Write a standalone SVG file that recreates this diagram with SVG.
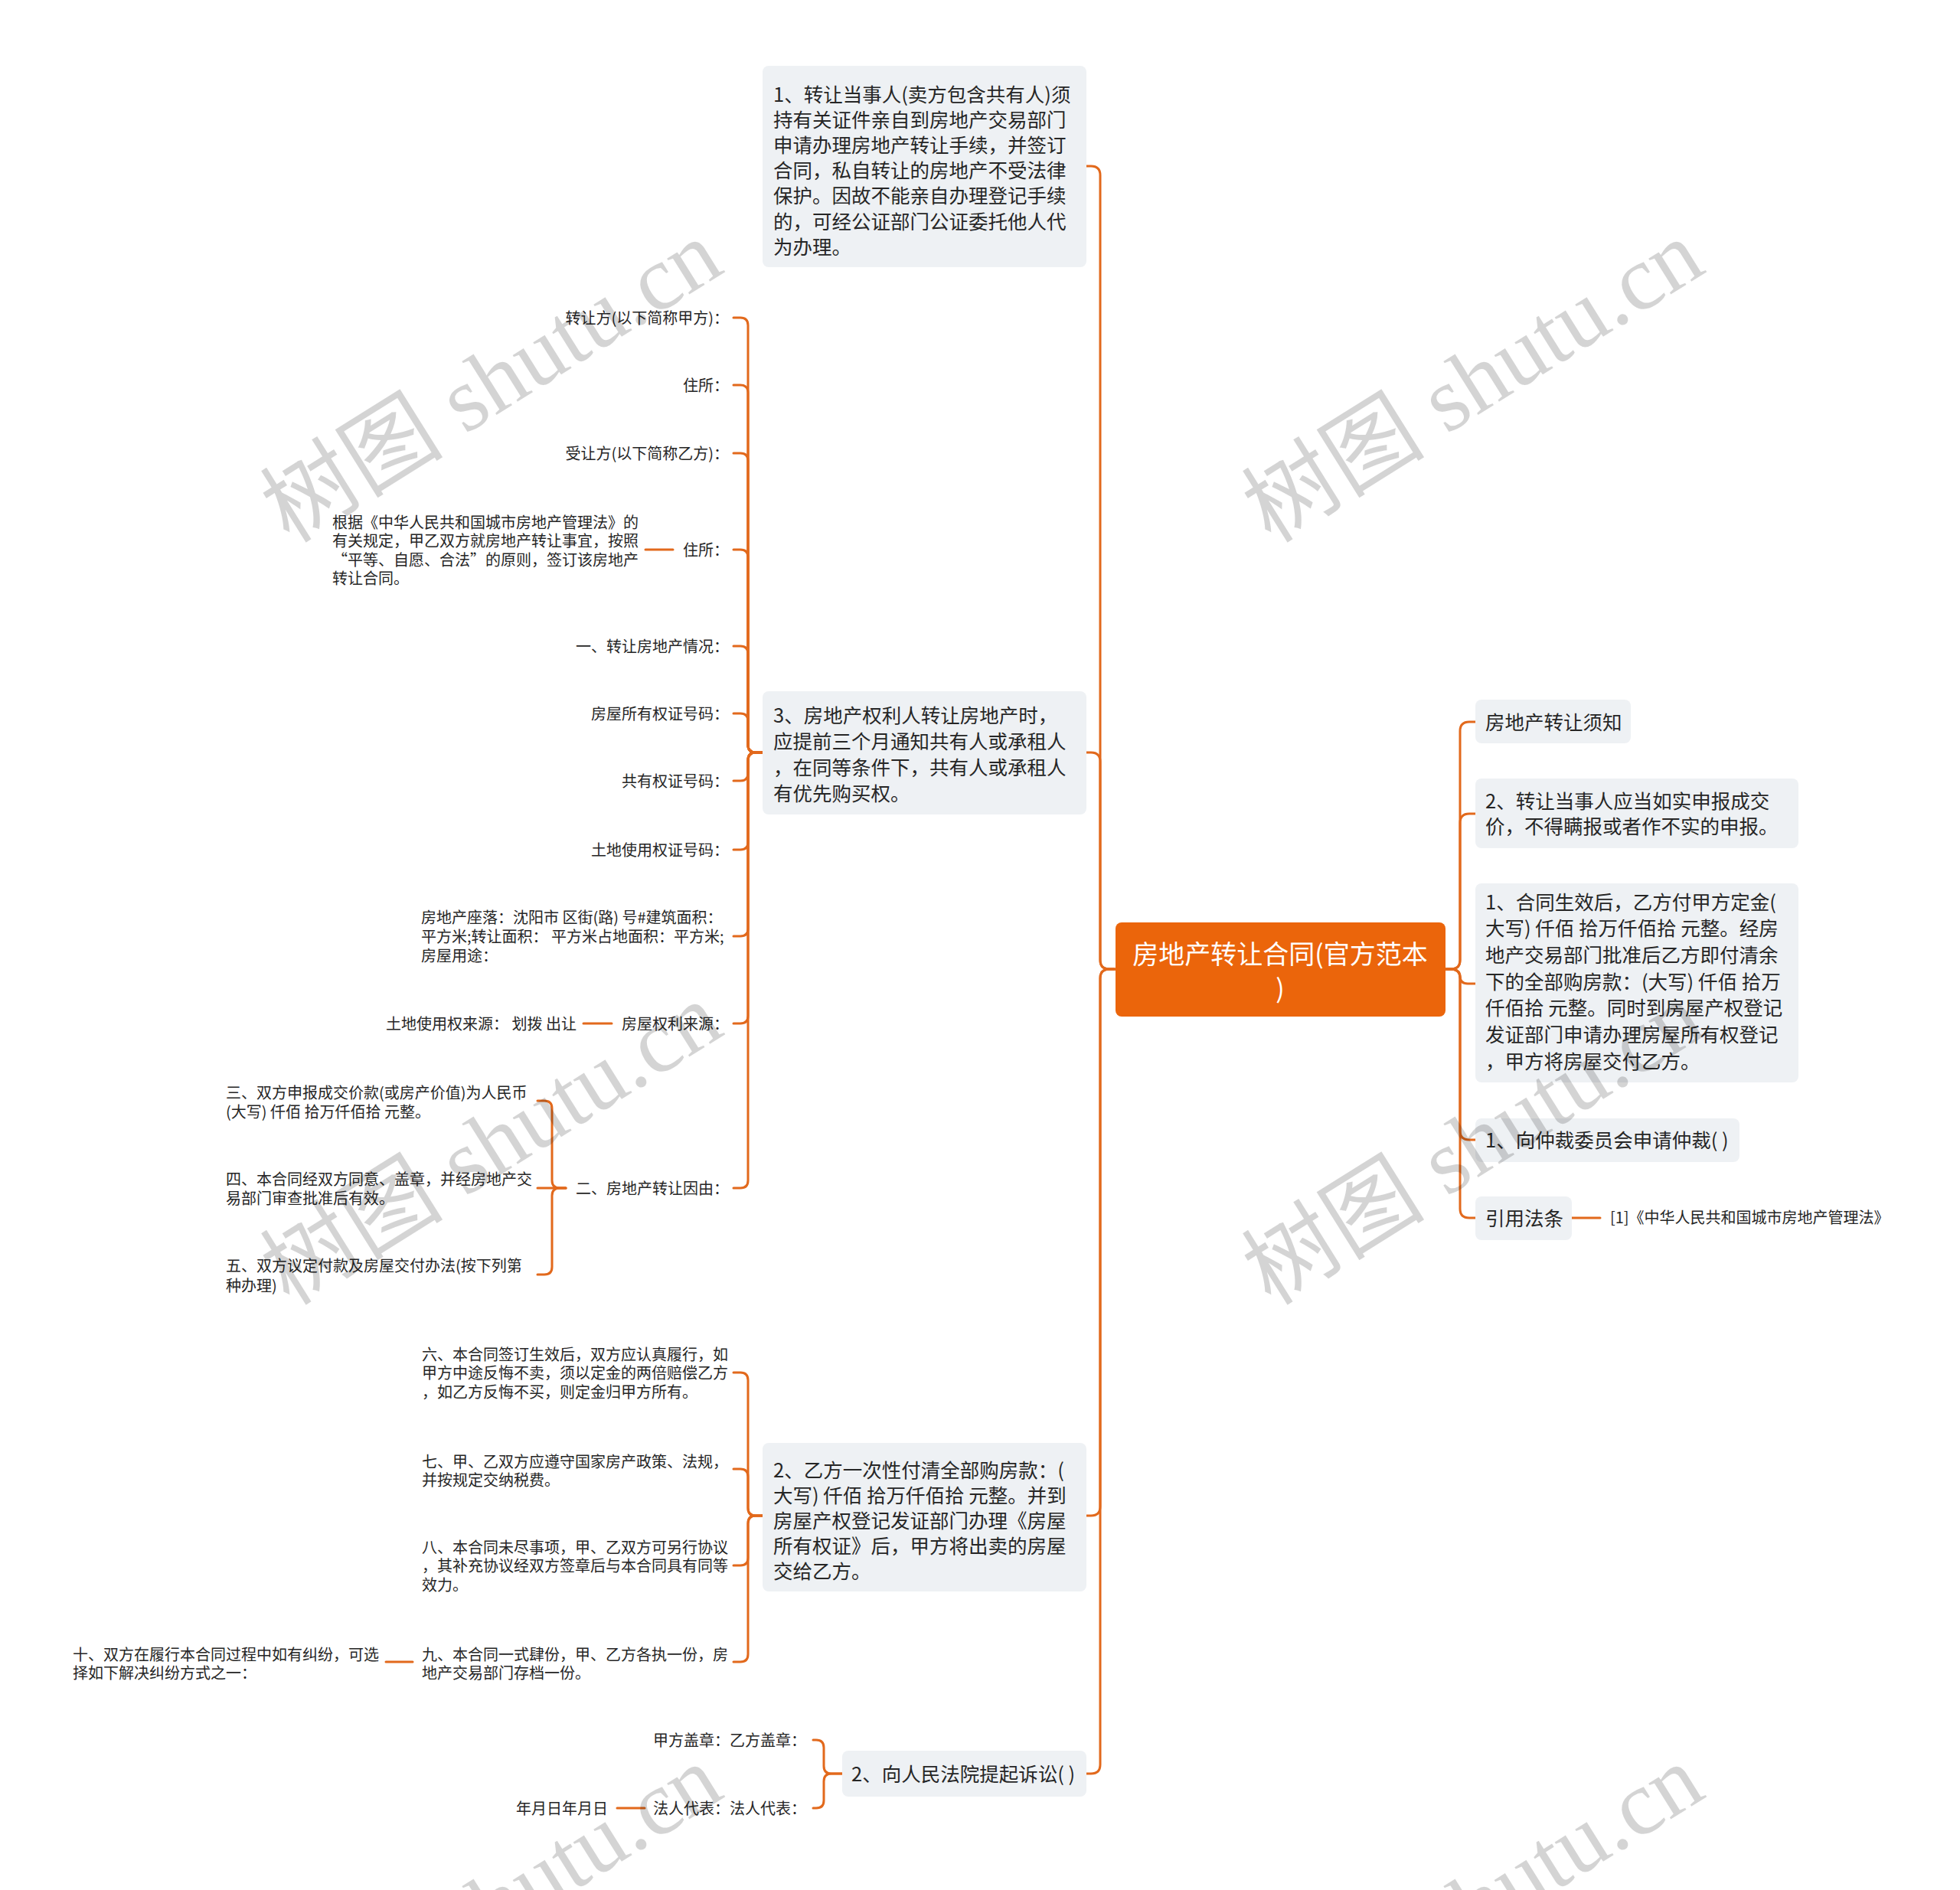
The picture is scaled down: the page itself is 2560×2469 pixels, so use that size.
<svg xmlns="http://www.w3.org/2000/svg" width="2560" height="2469" viewBox="0 0 2560 2469">
<style>
.ln{fill:none;stroke:#E2691C;stroke-width:3;stroke-linecap:round}
.box{fill:#EEF1F4}
.t{font-family:"Noto Sans CJK SC","Noto Sans",sans-serif;fill:#262626}
.n{font-size:25.5px}
.s{font-size:20px}
.e{text-anchor:end}
.root{font-family:"Noto Sans CJK SC","Noto Sans",sans-serif;font-size:34px;fill:#ffffff;text-anchor:middle}
.wm{font-family:"Liberation Serif","Noto Sans CJK SC",serif;font-size:120px;fill:#000;fill-opacity:0.17}
</style>
<rect x="0" y="0" width="2560" height="2469" fill="#ffffff"/>
<g id="connectors">
<path class="ln" d="M1456 1266 H1449 Q1437 1266 1437 1254 V229 Q1437 217 1425 217 H1419"/>
<path class="ln" d="M1456 1266 H1449 Q1437 1266 1437 1254 V995 Q1437 983 1425 983 H1419"/>
<path class="ln" d="M1456 1266 H1449 Q1437 1266 1437 1278 V1968 Q1437 1980 1425 1980 H1419"/>
<path class="ln" d="M1456 1266 H1449 Q1437 1266 1437 1278 V2305 Q1437 2317 1425 2317 H1419"/>
<path class="ln" d="M1888 1266 H1895 Q1907 1266 1907 1254 V955 Q1907 943 1919 943 H1927"/>
<path class="ln" d="M1888 1266 H1895 Q1907 1266 1907 1254 V1075 Q1907 1063 1919 1063 H1927"/>
<path class="ln" d="M1888 1266 H1895 Q1907 1266 1907 1276 V1275 Q1907 1285 1917 1285 H1927"/>
<path class="ln" d="M1888 1266 H1895 Q1907 1266 1907 1278 V1477 Q1907 1489 1919 1489 H1927"/>
<path class="ln" d="M1888 1266 H1895 Q1907 1266 1907 1278 V1579 Q1907 1591 1919 1591 H1927"/>
<path class="ln" d="M996 983 H987 Q977 983 977 973 V425 Q977 415 967 415 H958"/>
<path class="ln" d="M996 983 H987 Q977 983 977 973 V513 Q977 503 967 503 H958"/>
<path class="ln" d="M996 983 H987 Q977 983 977 973 V602 Q977 592 967 592 H958"/>
<path class="ln" d="M996 983 H987 Q977 983 977 973 V728 Q977 718 967 718 H958"/>
<path class="ln" d="M996 983 H987 Q977 983 977 973 V854 Q977 844 967 844 H958"/>
<path class="ln" d="M996 983 H987 Q977 983 977 973 V942 Q977 932 967 932 H958"/>
<path class="ln" d="M996 983 H987 Q977 983 977 993 V1010 Q977 1020 967 1020 H958"/>
<path class="ln" d="M996 983 H987 Q977 983 977 993 V1100 Q977 1110 967 1110 H958"/>
<path class="ln" d="M996 983 H987 Q977 983 977 993 V1213 Q977 1223 967 1223 H958"/>
<path class="ln" d="M996 983 H987 Q977 983 977 993 V1327 Q977 1337 967 1337 H958"/>
<path class="ln" d="M996 983 H987 Q977 983 977 993 V1542 Q977 1552 967 1552 H958"/>
<path class="ln" d="M996 1980 H987 Q977 1980 977 1970 V1803 Q977 1793 967 1793 H958"/>
<path class="ln" d="M996 1980 H987 Q977 1980 977 1970 V1929 Q977 1919 967 1919 H958"/>
<path class="ln" d="M996 1980 H987 Q977 1980 977 1990 V2035 Q977 2045 967 2045 H958"/>
<path class="ln" d="M996 1980 H987 Q977 1980 977 1990 V2161 Q977 2171 967 2171 H958"/>
<path class="ln" d="M1100 2317 H1086 Q1076 2317 1076 2307 V2283 Q1076 2273 1066 2273 H1062"/>
<path class="ln" d="M1100 2317 H1086 Q1076 2317 1076 2327 V2352 Q1076 2362 1066 2362 H1062"/>
<path class="ln" d="M739 1552 H731 Q721 1552 721 1542 V1448 Q721 1438 711 1438 H702"/>
<path class="ln" d="M739 1552 H702"/>
<path class="ln" d="M739 1552 H731 Q721 1552 721 1562 V1655 Q721 1665 711 1665 H702"/>
<path class="ln" d="M843 718 H879"/>
<path class="ln" d="M762 1337 H799"/>
<path class="ln" d="M504 2171 H539"/>
<path class="ln" d="M806 2362 H842"/>
<path class="ln" d="M2053 1591 H2090"/>
</g>
<g id="root">
<rect x="1457" y="1205" width="431" height="123" rx="8" fill="#EB650B"/>
<text class="root" x="1672" y="1259">房地产转让合同(官方范本</text>
<text class="root" x="1672" y="1304">)</text>
</g>
<g id="n1">
<rect class="box" x="996" y="86" width="423" height="263" rx="8"/>
<text class="t n" x="1010" y="132.5">1、转让当事人(卖方包含共有人)须</text>
<text class="t n" x="1010" y="165.7">持有关证件亲自到房地产交易部门</text>
<text class="t n" x="1010" y="198.9">申请办理房地产转让手续，并签订</text>
<text class="t n" x="1010" y="232.1">合同，私自转让的房地产不受法律</text>
<text class="t n" x="1010" y="265.3">保护。因故不能亲自办理登记手续</text>
<text class="t n" x="1010" y="298.5">的，可经公证部门公证委托他人代</text>
<text class="t n" x="1010" y="331.7">为办理。</text>
</g>
<g id="n3">
<rect class="box" x="996" y="903" width="423" height="161" rx="8"/>
<text class="t n" x="1010" y="943.5">3、房地产权利人转让房地产时，</text>
<text class="t n" x="1010" y="977.5">应提前三个月通知共有人或承租人</text>
<text class="t n" x="1010" y="1011.5">，在同等条件下，共有人或承租人</text>
<text class="t n" x="1010" y="1045.5">有优先购买权。</text>
</g>
<g id="n2b">
<rect class="box" x="996" y="1885" width="423" height="194" rx="8"/>
<text class="t n" x="1010" y="1929.5">2、乙方一次性付清全部购房款：(</text>
<text class="t n" x="1010" y="1962.5">大写) 仟佰 拾万仟佰拾 元整。并到</text>
<text class="t n" x="1010" y="1995.5">房屋产权登记发证部门办理《房屋</text>
<text class="t n" x="1010" y="2028.5">所有权证》后，甲方将出卖的房屋</text>
<text class="t n" x="1010" y="2061.5">交给乙方。</text>
</g>
<g id="n_lawsuit">
<rect class="box" x="1100" y="2287" width="319" height="60" rx="8"/>
<text class="t n" x="1112" y="2326.5">2、向人民法院提起诉讼( )</text>
</g>
<g id="r_notice">
<rect class="box" x="1927" y="914" width="203" height="57" rx="8"/>
<text class="t n" x="1940" y="952.5">房地产转让须知</text>
</g>
<g id="r2">
<rect class="box" x="1927" y="1017" width="422" height="91" rx="8"/>
<text class="t n" x="1940" y="1055.5">2、转让当事人应当如实申报成交</text>
<text class="t n" x="1940" y="1088.5">价，不得瞒报或者作不实的申报。</text>
</g>
<g id="r1">
<rect class="box" x="1927" y="1154" width="422" height="260" rx="8"/>
<text class="t n" x="1940" y="1187.5">1、合同生效后，乙方付甲方定金(</text>
<text class="t n" x="1940" y="1222.2">大写) 仟佰 拾万仟佰拾 元整。经房</text>
<text class="t n" x="1940" y="1256.9">地产交易部门批准后乙方即付清余</text>
<text class="t n" x="1940" y="1291.6">下的全部购房款：(大写) 仟佰 拾万</text>
<text class="t n" x="1940" y="1326.3">仟佰拾 元整。同时到房屋产权登记</text>
<text class="t n" x="1940" y="1361">发证部门申请办理房屋所有权登记</text>
<text class="t n" x="1940" y="1395.7">，甲方将房屋交付乙方。</text>
</g>
<g id="r_arb">
<rect class="box" x="1927" y="1461" width="345" height="57" rx="8"/>
<text class="t n" x="1940" y="1498.5">1、向仲裁委员会申请仲裁( )</text>
</g>
<g id="r_law">
<rect class="box" x="1927" y="1563" width="126" height="57" rx="8"/>
<text class="t n" x="1940" y="1601">引用法条</text>
</g>
<g id="r_law_ref">
<text class="t s" x="2103" y="1598">[1]《中华人民共和国城市房地产管理法》</text>
</g>
<g id="l_transferor"><text class="t s e" x="952" y="422.5">转让方(以下简称甲方)：</text></g>
<g id="l_addr1"><text class="t s e" x="952" y="510.5">住所：</text></g>
<g id="l_transferee"><text class="t s e" x="952" y="599.5">受让方(以下简称乙方)：</text></g>
<g id="l_addr2"><text class="t s e" x="952" y="725.5">住所：</text></g>
<g id="l_basis">
<text class="t s" x="434" y="689.5">根据《中华人民共和国城市房地产管理法》的</text>
<text class="t s" x="434" y="714">有关规定，甲乙双方就房地产转让事宜，按照</text>
<text class="t s" x="434" y="738.5">“平等、自愿、合法”的原则，签订该房地产</text>
<text class="t s" x="434" y="763">转让合同。</text>
</g>
<g id="l_sec1"><text class="t s e" x="952" y="851.5">一、转让房地产情况：</text></g>
<g id="l_cert"><text class="t s e" x="952" y="939.5">房屋所有权证号码：</text></g>
<g id="l_cocert"><text class="t s e" x="952" y="1027.5">共有权证号码：</text></g>
<g id="l_landcert"><text class="t s e" x="952" y="1117.5">土地使用权证号码：</text></g>
<g id="l_location">
<text class="t s" x="550" y="1205.5">房地产座落：沈阳市 区街(路) 号#建筑面积：</text>
<text class="t s" x="550" y="1230.5">平方米;转让面积：  平方米占地面积：平方米;</text>
<text class="t s" x="550" y="1255.5">房屋用途：</text>
</g>
<g id="l_source"><text class="t s e" x="952" y="1344.5">房屋权利来源：</text></g>
<g id="l_landsource"><text class="t s e" x="753" y="1344.5">土地使用权来源：  划拨 出让</text></g>
<g id="l_sec2"><text class="t s e" x="952" y="1559.5">二、房地产转让因由：</text></g>
<g id="l_three">
<text class="t s" x="295" y="1434.5">三、双方申报成交价款(或房产价值)为人民币</text>
<text class="t s" x="295" y="1459.5">(大写) 仟佰 拾万仟佰拾 元整。</text>
</g>
<g id="l_four">
<text class="t s" x="295" y="1547.5">四、本合同经双方同意、盖章，并经房地产交</text>
<text class="t s" x="295" y="1572.5">易部门审查批准后有效。</text>
</g>
<g id="l_five">
<text class="t s" x="295" y="1660.5">五、双方议定付款及房屋交付办法(按下列第</text>
<text class="t s" x="295" y="1686.5">种办理)</text>
</g>
<g id="l_six">
<text class="t s" x="551" y="1776.5">六、本合同签订生效后，双方应认真履行，如</text>
<text class="t s" x="551" y="1801">甲方中途反悔不卖，须以定金的两倍赔偿乙方</text>
<text class="t s" x="551" y="1825.5">，如乙方反悔不买，则定金归甲方所有。</text>
</g>
<g id="l_seven">
<text class="t s" x="551" y="1916.5">七、甲、乙双方应遵守国家房产政策、法规，</text>
<text class="t s" x="551" y="1941">并按规定交纳税费。</text>
</g>
<g id="l_eight">
<text class="t s" x="551" y="2028.5">八、本合同未尽事项，甲、乙双方可另行协议</text>
<text class="t s" x="551" y="2053">，其补充协议经双方签章后与本合同具有同等</text>
<text class="t s" x="551" y="2077.5">效力。</text>
</g>
<g id="l_nine">
<text class="t s" x="551" y="2168.5">九、本合同一式肆份，甲、乙方各执一份，房</text>
<text class="t s" x="551" y="2193">地产交易部门存档一份。</text>
</g>
<g id="l_ten">
<text class="t s" x="95" y="2168.5">十、双方在履行本合同过程中如有纠纷，可选</text>
<text class="t s" x="95" y="2193">择如下解决纠纷方式之一：</text>
</g>
<g id="l_seal"><text class="t s e" x="1053" y="2280.5">甲方盖章：乙方盖章：</text></g>
<g id="l_rep"><text class="t s e" x="1053" y="2369.5">法人代表：法人代表：</text></g>
<g id="l_date"><text class="t s e" x="794" y="2369.5">年月日年月日</text></g>
<g id="watermarks">
<text class="wm" x="378" y="711" transform="rotate(-32 378 711)">树图 shutu.cn</text>
<text class="wm" x="1660" y="711" transform="rotate(-32 1660 711)">树图 shutu.cn</text>
<text class="wm" x="378" y="1707" transform="rotate(-32 378 1707)">树图 shutu.cn</text>
<text class="wm" x="1660" y="1707" transform="rotate(-32 1660 1707)">树图 shutu.cn</text>
<text class="wm" x="378" y="2703" transform="rotate(-32 378 2703)">树图 shutu.cn</text>
<text class="wm" x="1660" y="2703" transform="rotate(-32 1660 2703)">树图 shutu.cn</text>
</g>
</svg>
